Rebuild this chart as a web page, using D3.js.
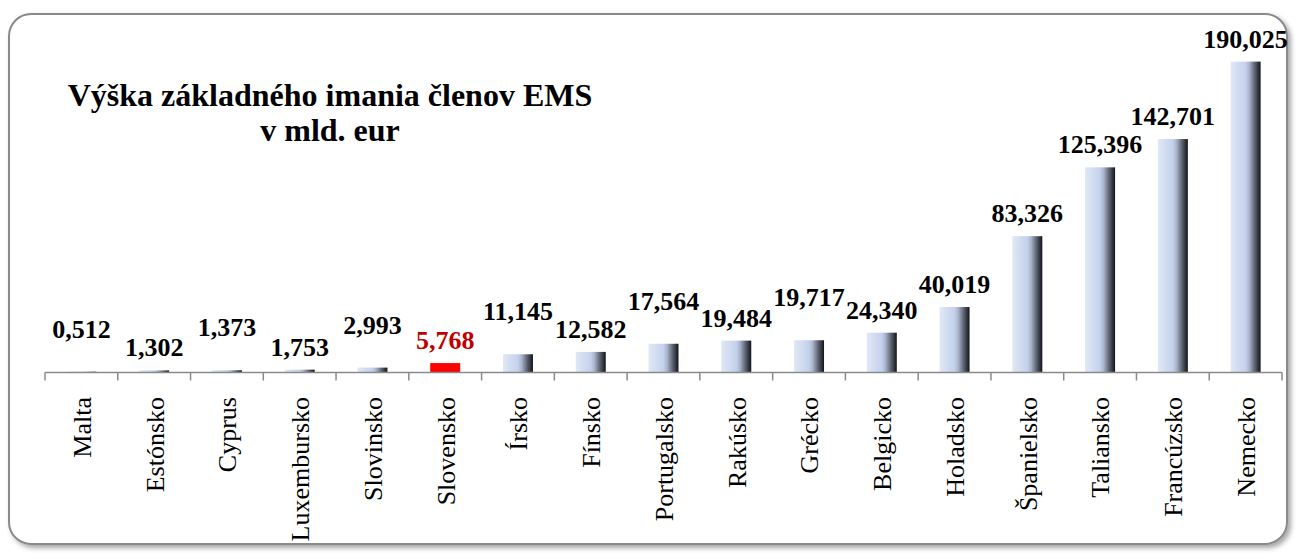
<!DOCTYPE html>
<html>
<head>
<meta charset="utf-8">
<script src="https://cdn.jsdelivr.net/npm/d3@7"></script>
<style>
  html, body { margin: 0; padding: 0; background: #fff; }
  svg { display: block; }
</style>
</head>
<body>
<svg id="chart" width="1298" height="556"></svg>
<script>
var countries = ['Malta', 'Estónsko', 'Cyprus', 'Luxembursko', 'Slovinsko', 'Slovensko', 'Írsko',
  'Fínsko', 'Portugalsko', 'Rakúsko', 'Grécko', 'Belgicko', 'Holadsko', 'Španielsko',
  'Taliansko', 'Francúzsko', 'Nemecko'];
var capital = [0.512, 1.302, 1.373, 1.753, 2.993, 5.768, 11.145, 12.582, 17.564, 19.484,
  19.717, 24.340, 40.019, 83.326, 125.396, 142.701, 190.025];
var highlight = 'Slovensko';
var titleLines = ['Výška základného imania členov EMS', 'v mld. eur'];

var svg = d3.select('#chart');
var defs = svg.append('defs');

var shadow = defs.append('filter').attr('id', 'shadow')
    .attr('x', '-5%').attr('y', '-5%').attr('width', '110%').attr('height', '110%');
shadow.append('feDropShadow')
    .attr('dx', 3).attr('dy', 3).attr('stdDeviation', 2.5)
    .attr('flood-color', '#000').attr('flood-opacity', 0.35);

var grad = defs.append('linearGradient').attr('id', 'barGrad')
    .attr('x1', '0%').attr('x2', '100%').attr('y1', '0%').attr('y2', '0%');
[[0, '#e1e8f6'], [0.5, '#c3d1ec'], [0.62, '#aab5cb'], [0.8, '#5e6574'], [1, '#111317']]
  .forEach(function(s) {
    grad.append('stop').attr('offset', s[0]).attr('stop-color', s[1]);
  });

// frame
svg.append('rect')
    .attr('x', 9).attr('y', 14).attr('width', 1278).attr('height', 530)
    .attr('rx', 22).attr('ry', 22)
    .attr('fill', '#fff').attr('stroke', '#8a8a8a').attr('stroke-width', 2)
    .attr('filter', 'url(#shadow)');

var baseY = 372.5;
var x = d3.scaleBand().domain(countries).range([45, 1282])
    .paddingInner(0.588).paddingOuter(0.294);
var y = d3.scaleLinear().domain([0, 200]).range([baseY, 45.3]);

var data = countries.map(function(c, i) { return { name: c, value: capital[i], i: i }; });

// bars
svg.selectAll('.bar')
    .data(data)
    .enter().append('rect')
    .attr('class', 'bar')
    .attr('x', function(d) { return x(d.name); })
    .attr('width', x.bandwidth())
    .attr('y', function(d) { return y(d.value); })
    .attr('height', function(d) { return baseY - y(d.value); })
    .attr('fill', function(d) { return d.name === highlight ? '#ff0000' : 'url(#barGrad)'; });

// axis line + ticks between categories
var step = x.step();
var edges = d3.range(countries.length + 1).map(function(k) { return 45 + k * step; });
svg.append('line')
    .attr('x1', 45).attr('x2', 1282).attr('y1', baseY).attr('y2', baseY)
    .attr('stroke', '#8a8a8a').attr('stroke-width', 1.5);
svg.selectAll('.tick')
    .data(edges)
    .enter().append('line')
    .attr('class', 'tick')
    .attr('x1', function(d) { return d; }).attr('x2', function(d) { return d; })
    .attr('y1', baseY).attr('y2', baseY + 8)
    .attr('stroke', '#8a8a8a').attr('stroke-width', 1.5);

// category labels
svg.selectAll('.cat')
    .data(data)
    .enter().append('text')
    .attr('class', 'cat')
    .attr('transform', function(d) {
      return 'translate(' + (x(d.name) + x.bandwidth() / 2) + ',397) rotate(-90)';
    })
    .attr('dy', '0.36em')
    .attr('text-anchor', 'end')
    .style('font-family', '"Liberation Serif", "Times New Roman", serif')
    .style('font-size', '26px')
    .attr('fill', '#000')
    .text(function(d) { return d.name; });

// value labels (small bars staggered so labels don't collide)
var fmt = function(v) { return v.toFixed(3).replace('.', ','); };
svg.selectAll('.val')
    .data(data)
    .enter().append('text')
    .attr('class', 'val')
    .attr('x', function(d) { return x(d.name) + x.bandwidth() / 2; })
    .attr('y', function(d) {
      var lift = (d.i % 2 === 0 && d.i < 11) ? 20 : 0;
      return y(d.value) - 14 - lift;
    })
    .attr('text-anchor', 'middle')
    .style('font-family', '"Liberation Serif", "Times New Roman", serif')
    .style('font-size', '26px')
    .style('font-weight', 'bold')
    .attr('fill', function(d) { return d.name === highlight ? '#c00000' : '#000'; })
    .text(function(d) { return fmt(d.value); });

// title
svg.append('text')
    .attr('x', 330).attr('y', 106)
    .attr('text-anchor', 'middle')
    .style('font-family', '"Liberation Serif", "Times New Roman", serif')
    .style('font-size', '32px')
    .style('font-weight', 'bold')
    .selectAll('tspan')
    .data(titleLines)
    .enter().append('tspan')
    .attr('x', 330)
    .attr('dy', function(d, i) { return i === 0 ? 0 : 35; })
    .text(function(d) { return d; });
</script>
</body>
</html>
